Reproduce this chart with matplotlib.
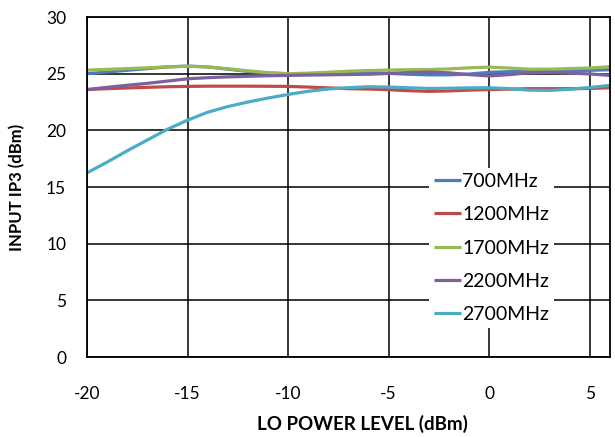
import numpy as np
import matplotlib
matplotlib.use('Agg')
import matplotlib.pyplot as plt

plt.rcParams['font.family'] = ['Lato', 'DejaVu Sans']
plt.rcParams['axes.unicode_minus'] = False

# LO drive level (dBm)
lo_power = np.arange(-20, 7, 1)

# input IP3 (dBm) per RF frequency
ip3_700 = [25.0, 25.15, 25.3, 25.45, 25.6, 25.67, 25.6, 25.4, 25.2, 25.05, 25.0, 25.0, 25.02, 25.07,
           25.08, 25.03, 24.95, 24.9, 24.9, 24.97, 25.12, 25.18, 25.2, 25.22, 25.27, 25.3, 25.35]
ip3_1200 = [23.6, 23.68, 23.74, 23.8, 23.85, 23.88, 23.9, 23.9, 23.9, 23.89, 23.88, 23.82, 23.75, 23.68,
            23.65, 23.59, 23.5, 23.44, 23.48, 23.55, 23.6, 23.64, 23.68, 23.68, 23.68, 23.7, 23.76]
ip3_1700 = [25.32, 25.38, 25.45, 25.52, 25.6, 25.66, 25.6, 25.44, 25.25, 25.1, 25.0, 25.05, 25.13, 25.22,
            25.28, 25.32, 25.35, 25.37, 25.42, 25.52, 25.58, 25.5, 25.4, 25.4, 25.45, 25.5, 25.62]
ip3_2200 = [23.6, 23.8, 23.98, 24.15, 24.35, 24.55, 24.65, 24.72, 24.77, 24.82, 24.85, 24.88, 24.9, 24.93,
            24.95, 25.02, 25.1, 25.15, 25.08, 24.92, 24.8, 24.92, 25.08, 25.12, 25.05, 24.98, 24.85]
ip3_2700 = [16.25, 17.2, 18.2, 19.15, 20.1, 20.9, 21.6, 22.1, 22.5, 22.85, 23.17, 23.45, 23.65, 23.77,
            23.85, 23.82, 23.76, 23.7, 23.72, 23.75, 23.76, 23.68, 23.55, 23.53, 23.62, 23.78, 23.97]

labels = ['700MHz', '1200MHz', '1700MHz', '2200MHz', '2700MHz']
colors = ['#4A7EBB', '#BE4B48', '#98B954', '#7D60A0', '#4BACC6']
series = [ip3_700, ip3_1200, ip3_1700, ip3_2200, ip3_2700]

fig = plt.figure(figsize=(6.15, 4.37), dpi=100)
ax = fig.add_axes([0.1415, 0.183, 0.850, 0.778])

for y, c, lab in zip(series, colors, labels):
    ax.plot(lo_power, y, color=c, linewidth=2.3, label=lab, solid_capstyle='butt')

ax.set_xlim(-20, 6)
ax.set_ylim(0, 30)
ax.set_xticks([-20, -15, -10, -5, 0, 5])
ax.set_yticks(range(0, 31, 5))
ax.grid(True, color='black', linewidth=1.1)
ax.set_axisbelow(True)
for s in ax.spines.values():
    s.set_linewidth(1.3)
ax.tick_params(length=0, labelsize=12.5)
ax.tick_params(axis='x', pad=21)
ax.tick_params(axis='y', pad=15)

ax.set_xlabel('LO POWER LEVEL (dBm)', fontweight='bold', fontsize=13.5)
ax.set_ylabel('INPUT IP3 (dBm)', fontweight='bold', fontsize=12)
ax.xaxis.set_label_coords(0.527, -0.17)
ax.yaxis.set_label_coords(-0.118, 0.5)

leg = ax.legend(loc='upper left', bbox_to_anchor=(0.655, 0.556), borderaxespad=0,
                frameon=True, fancybox=False, fontsize=14, handlelength=1.35,
                handletextpad=0.1, labelspacing=0.84, borderpad=0.25)
leg.get_frame().set_facecolor('white')
leg.get_frame().set_edgecolor('none')
leg.get_frame().set_alpha(1)

fig.savefig('out.png', dpi=100)
